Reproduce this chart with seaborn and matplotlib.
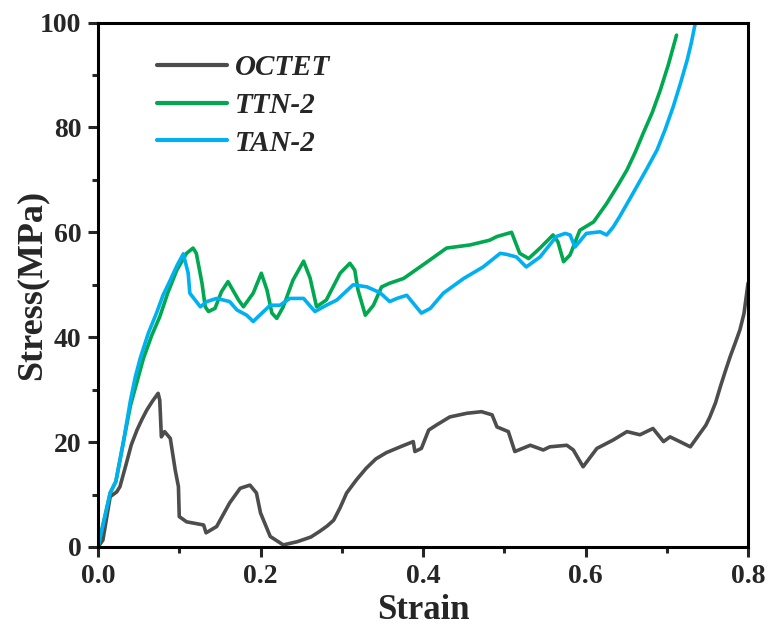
import matplotlib
matplotlib.use("Agg")
import matplotlib.pyplot as plt
from matplotlib.ticker import MultipleLocator
import seaborn as sns

# Data (strain, stress in MPa)
octet_strain = [0.0, 0.006, 0.015, 0.023, 0.027, 0.035, 0.041, 0.048, 0.054, 0.06, 0.067,
                0.074, 0.076, 0.078, 0.082, 0.089, 0.095, 0.099, 0.1, 0.109, 0.13, 0.133,
                0.146, 0.162, 0.175, 0.187, 0.195, 0.2, 0.212, 0.228, 0.245, 0.262, 0.273,
                0.282, 0.29, 0.298, 0.306, 0.318, 0.33, 0.342, 0.355, 0.372, 0.388, 0.39,
                0.398, 0.407, 0.417, 0.433, 0.454, 0.472, 0.485, 0.491, 0.505, 0.513, 0.532,
                0.548, 0.556, 0.577, 0.585, 0.597, 0.614, 0.634, 0.651, 0.667, 0.683, 0.696,
                0.704, 0.716, 0.729, 0.741, 0.748, 0.753, 0.76, 0.766, 0.772, 0.778, 0.784,
                0.79, 0.795, 0.8]
octet_stress = [0.0, 1.3, 9.6, 10.5, 11.5, 16.0, 19.5, 22.3, 24.3, 26.1, 27.8,
                29.3, 28.0, 21.0, 22.0, 20.7, 14.7, 11.5, 5.8, 4.8, 4.2, 2.7,
                3.9, 8.4, 11.2, 11.8, 10.3, 6.5, 2.0, 0.4, 1.0, 1.9, 3.0,
                4.0, 5.1, 7.5, 10.3, 12.8, 15.0, 16.8, 18.0, 19.1, 20.1, 18.2,
                18.8, 22.3, 23.3, 24.8, 25.5, 25.8, 25.2, 22.9, 22.0, 18.2, 19.4,
                18.5, 19.1, 19.4, 18.5, 15.3, 18.8, 20.4, 22.0, 21.4, 22.6, 20.1,
                21.0, 20.1, 19.1, 21.7, 23.2, 24.8, 27.5, 30.6, 33.5, 36.3, 38.8,
                41.4, 44.5, 50.3]

ttn_strain = [0.0, 0.015, 0.022, 0.031, 0.04, 0.048, 0.056, 0.066, 0.076, 0.086, 0.097,
              0.109, 0.117, 0.121, 0.128, 0.132, 0.136, 0.144, 0.152, 0.16, 0.167, 0.173,
              0.179, 0.191, 0.201, 0.208, 0.214, 0.22, 0.228, 0.24, 0.253, 0.261, 0.269,
              0.281, 0.298, 0.31, 0.316, 0.32, 0.329, 0.339, 0.349, 0.359, 0.376, 0.4,
              0.429, 0.458, 0.482, 0.491, 0.509, 0.519, 0.53, 0.544, 0.56, 0.566, 0.573,
              0.581, 0.593, 0.61, 0.626, 0.64, 0.651, 0.661, 0.671, 0.682, 0.692, 0.702,
              0.712]
ttn_stress = [0.0, 10.3, 12.5, 19.8, 27.0, 31.5, 36.0, 40.3, 43.9, 48.5, 52.8,
              56.0, 57.0, 56.0, 50.3, 45.8, 44.9, 45.5, 48.7, 50.6, 48.7, 47.1,
              45.8, 48.4, 52.2, 49.0, 44.6, 43.6, 45.8, 50.9, 54.5, 51.3, 45.8,
              47.1, 52.2, 54.1, 52.8, 49.0, 44.2, 46.1, 49.6, 50.3, 51.2, 53.8,
              57.0, 57.6, 58.5, 59.2, 60.0, 56.0, 55.0, 57.0, 59.5, 58.2, 54.4,
              55.7, 60.4, 62.0, 65.5, 69.0, 71.9, 75.2, 78.9, 82.8, 87.1, 92.0,
              97.6]

tan_strain = [0.0, 0.015, 0.022, 0.031, 0.04, 0.046, 0.052, 0.062, 0.072, 0.08, 0.089,
              0.097, 0.105, 0.111, 0.113, 0.126, 0.134, 0.146, 0.162, 0.171, 0.183, 0.191,
              0.199, 0.212, 0.224, 0.236, 0.253, 0.267, 0.281, 0.294, 0.314, 0.331, 0.347,
              0.359, 0.368, 0.38, 0.39, 0.398, 0.409, 0.425, 0.45, 0.474, 0.495, 0.503,
              0.515, 0.527, 0.544, 0.564, 0.575, 0.581, 0.587, 0.601, 0.618, 0.626, 0.634,
              0.642, 0.652, 0.663, 0.675, 0.688, 0.698, 0.708, 0.717, 0.725, 0.73, 0.735]
tan_stress = [0.0, 10.3, 12.5, 19.8, 28.0, 32.5, 36.0, 40.8, 44.6, 48.0, 50.9,
              53.6, 55.9, 52.2, 48.4, 45.8, 46.8, 47.4, 46.8, 45.2, 44.2, 43.0,
              44.2, 46.1, 46.1, 47.4, 47.4, 44.9, 46.1, 47.1, 50.0, 49.6, 48.5,
              46.8, 47.4, 48.0, 46.1, 44.6, 45.5, 48.4, 51.2, 53.4, 56.0, 55.8,
              55.3, 53.4, 55.3, 59.2, 59.8, 59.5, 57.2, 59.8, 60.1, 59.5, 61.0,
              63.0, 65.7, 68.7, 72.0, 75.7, 79.6, 84.0, 88.5, 92.8, 96.0, 99.8]

series_labels = ["OCTET", "TTN-2", "TAN-2"]
series_colors = ["#4d4d4d", "#00a84f", "#00b0f0"]

sns.set_style("ticks")
plt.rcParams["font.family"] = ["Liberation Serif", "DejaVu Serif"]
plt.rcParams["font.weight"] = "bold"

fig, ax = plt.subplots(figsize=(7.68, 6.27), dpi=100)
fig.subplots_adjust(left=0.1276, right=0.974, bottom=0.1276, top=0.964)

data = [(octet_strain, octet_stress), (ttn_strain, ttn_stress), (tan_strain, tan_stress)]
for (xs, ys), lab, col in zip(data, series_labels, series_colors):
    sns.lineplot(x=xs, y=ys, ax=ax, color=col, label=lab, linewidth=2.6,
                 sort=False, estimator=None)

ax.set_xlim(0, 0.8)
ax.set_ylim(0, 100)
ax.xaxis.set_major_locator(MultipleLocator(0.2))
ax.xaxis.set_minor_locator(MultipleLocator(0.1))
ax.yaxis.set_major_locator(MultipleLocator(20))
ax.yaxis.set_minor_locator(MultipleLocator(10))
ax.set_xticklabels([f"{v:.1f}" for v in ax.get_xticks()])

ax.tick_params(which="major", direction="out", length=7, width=2.2, labelsize=20, pad=5)
ax.tick_params(which="minor", direction="out", length=4.5, width=2.2)
for lbl in ax.get_xticklabels() + ax.get_yticklabels():
    lbl.set_fontweight("bold")
for sp in ax.spines.values():
    sp.set_visible(True)
    sp.set_linewidth(2.2)
    sp.set_color("black")

ax.set_xlabel("Strain", fontsize=25, fontweight="bold", labelpad=4)
ax.set_ylabel("Stress(MPa)", fontsize=26, fontweight="bold", labelpad=-6)

leg = ax.legend(loc="upper left", bbox_to_anchor=(0.091, 0.94), frameon=False,
                borderpad=0, borderaxespad=0,
                handlelength=2.4, handletextpad=0.27, labelspacing=0.37,
                prop={"family": "Liberation Serif", "weight": "bold",
                      "style": "italic", "size": 21})
for h in leg.get_lines():
    h.set_linewidth(3)

fig.savefig("out.png", dpi=100)
